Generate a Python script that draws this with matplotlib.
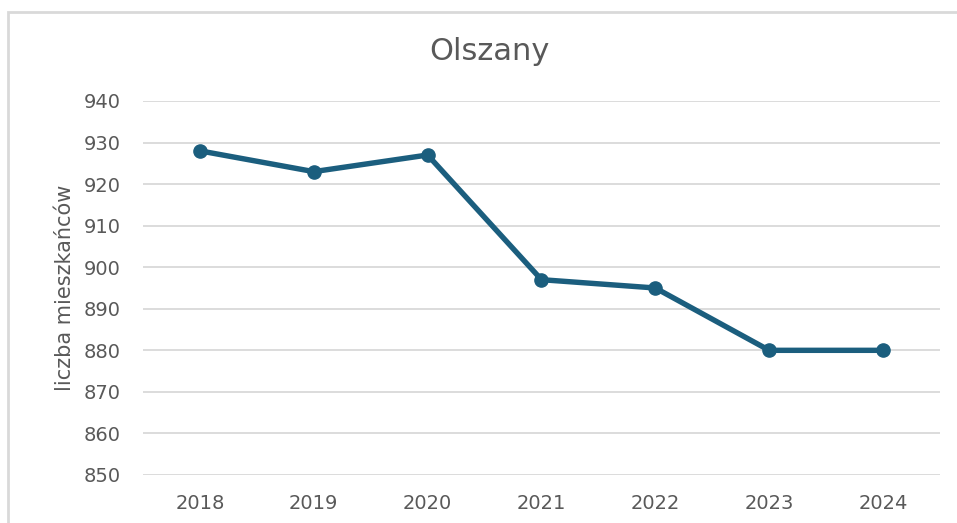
import matplotlib.pyplot as plt
from matplotlib.patches import Rectangle

# dane
lata = ["2018", "2019", "2020", "2021", "2022", "2023", "2024"]
mieszkancy = [928, 923, 927, 897, 895, 880, 880]
y_ticks = [850, 860, 870, 880, 890, 900, 910, 920, 930, 940]

plt.rcParams['font.family'] = ['DejaVu Sans']
TXT = '#595959'
LINE = '#1B5E7E'

fig = plt.figure(figsize=(9.57, 5.23), dpi=100)
ax = fig.add_axes([0.1494, 0.0918, 0.8328, 0.7151])

# ramka wykresu
fig.patches.append(Rectangle((8 / 957, -0.1), 1.2, 1 - 12 / 523 + 0.1,
                             transform=fig.transFigure, fill=False,
                             edgecolor='#D9D9D9', linewidth=2))

x = list(range(len(lata)))
ax.plot(x, mieszkancy, color=LINE, linewidth=3.9, marker='o',
        markersize=9.5, solid_capstyle='round', zorder=3)

ax.set_xlim(-0.5, len(lata) - 0.5)
ax.set_ylim(850, 940)
ax.set_xticks(x)
ax.set_xticklabels(lata)
ax.set_yticks(y_ticks)
ax.grid(axis='y', color='#D9D9D9', linewidth=1.3)
ax.set_axisbelow(True)
for s in ax.spines.values():
    s.set_visible(False)
ax.tick_params(length=0, labelsize=14, colors=TXT, pad=16)
ax.tick_params(axis='x', pad=14)

fig.text(489 / 957, 1 - 52 / 523, "Olszany", fontsize=22, color=TXT,
         ha='center', va='center')
ax.set_ylabel("liczba mieszkańców", fontsize=15, color=TXT, labelpad=6)

fig.savefig("out.png", dpi=100)
